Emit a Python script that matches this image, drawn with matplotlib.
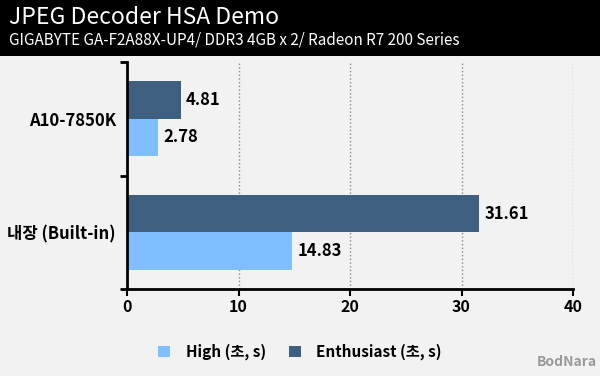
import matplotlib
matplotlib.use("Agg")
import matplotlib.pyplot as plt
from matplotlib.patches import Rectangle
import numpy as np

plt.rcParams['font.family'] = ['Noto Sans CJK KR', 'DejaVu Sans']

categories = ["내장 (Built-in)", "A10-7850K"]
high = [14.83, 2.78]
enthusiast = [31.61, 4.81]
series_names = ["High (초, s)", "Enthusiast (초, s)"]
xticks = [0, 10, 20, 30, 40]

c_high = "#80bfff"
c_ent = "#3f5f80"
bg = "#f2f2f2"

fig = plt.figure(figsize=(6, 3.76), dpi=100, facecolor=bg)
# header
fig.patches.append(Rectangle((0, 1 - 56/376), 1, 56/376, transform=fig.transFigure,
                             facecolor="black", edgecolor="none", zorder=0))
fig.text(9/600, 1 - 18/376, "JPEG Decoder HSA Demo", color="white", fontsize=16.5,
         fontweight="medium", va="center", ha="left", family=["Noto Sans CJK KR", "DejaVu Sans"])
fig.text(9/600, 1 - 40/376, "GIGABYTE GA-F2A88X-UP4/ DDR3 4GB x 2/ Radeon R7 200 Series",
         color="white", fontsize=11, fontweight="medium", va="center", ha="left",
         family=["Noto Sans CJK KR", "DejaVu Sans"])

ax = fig.add_axes([127/600, 1 - 289/376, (573 - 127)/600, (289 - 62)/376])
ax.set_facecolor(bg)
y = np.arange(len(categories))
h = 0.33
ax.barh(y - h/2, high, height=h, color=c_high, label=series_names[0], zorder=2)
ax.barh(y + h/2, enthusiast, height=h, color=c_ent, label=series_names[1], zorder=2)
for yi, v in zip(y, high):
    ax.text(v + 0.45, yi - h/2, f"{v:.2f}", va="center", ha="left", fontsize=12, fontweight="bold")
for yi, v in zip(y, enthusiast):
    ax.text(v + 0.45, yi + h/2, f"{v:.2f}", va="center", ha="left", fontsize=12, fontweight="bold")

ax.set_xlim(0, 40)
ax.set_ylim(-0.5, 1.5)
ax.set_xticks(xticks)
ax.set_xticklabels([str(t) for t in xticks], fontsize=11.5, fontweight="bold")
ax.set_yticks(y)
ax.set_yticklabels(categories, fontsize=12, fontweight="bold")
ax.tick_params(axis="y", length=0, pad=8)
ax.set_yticks([-0.5, 0.5, 1.5], minor=True)
ax.tick_params(axis="y", which="minor", length=5, width=2, direction="out")
ax.tick_params(axis="x", length=5, width=1.5, direction="out", pad=2)
ax.grid(axis="x", linestyle=":", color="#888888", linewidth=1, zorder=0)
for s in ["top", "right"]:
    ax.spines[s].set_visible(False)
ax.spines["left"].set_linewidth(2)
ax.spines["bottom"].set_linewidth(2)

handles, labels = ax.get_legend_handles_labels()
leg = fig.legend(handles, labels, loc="center", bbox_to_anchor=(300/600, 1 - 352/376), ncol=2,
                 frameon=False, prop={"size": 11, "weight": "bold"}, handlelength=0.8,
                 handleheight=0.8, columnspacing=1.5, handletextpad=1.0)

fig.text(597/600, 1 - 362/376, "BodNara", color="#999999", fontsize=10, fontweight="bold",
         ha="right", va="center")

fig.savefig("out.png", dpi=100, facecolor=bg)
